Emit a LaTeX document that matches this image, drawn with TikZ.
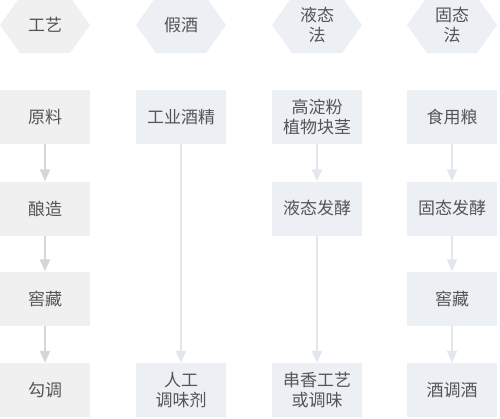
\documentclass[tikz,border=0pt]{standalone}
\usepackage{fontspec}
\newfontfamily\cjk{Noto Sans CJK SC}
\usetikzlibrary{arrows.meta}
\definecolor{grayfill}{HTML}{F0F0F0}
\definecolor{bluefill}{HTML}{ECEFF4}
\definecolor{grayarrow}{HTML}{D6D6D6}
\definecolor{bluearrow}{HTML}{E2E6EE}
\definecolor{txt}{HTML}{555555}
\tikzset{
  cell/.style={minimum width=90pt, minimum height=54pt, inner sep=0pt, align=center,
    font=\cjk\fontsize{17}{20}\selectfont, text=txt},
  gcell/.style={cell, fill=grayfill},
  bcell/.style={cell, fill=bluefill},
  hexlabel/.style={inner sep=0pt, align=center, font=\cjk\fontsize{17}{20}\selectfont, text=txt},
  flow/.style={line width=2pt, -{Triangle[width=10pt,length=12pt]}},
  gflow/.style={flow, draw=grayarrow},
  bflow/.style={flow, draw=bluearrow},
}
\newcommand{\hexshape}[3]{%
  \fill[#3] (#1-45,#2) -- (#1-25,#2-28) -- (#1+25,#2-28) -- (#1+45,#2) -- (#1+25,#2+28) -- (#1-25,#2+28) -- cycle;}
\begin{document}
\begin{tikzpicture}[x=1pt,y=-1pt]
\useasboundingbox (0,0) rectangle (500,418);
\fill[white] (0,0) rectangle (500,418);
% header hexagons
\hexshape{45}{25}{grayfill}
\hexshape{181}{25}{bluefill}
\hexshape{317}{25}{bluefill}
\hexshape{452}{25}{bluefill}
\node[hexlabel] (h1) at (45,25) {工艺};
\node[hexlabel] (h2) at (181,25) {假酒};
\node[hexlabel] (h3) at (317,25) {液态\\法};
\node[hexlabel] (h4) at (452,25) {固态\\法};
% column 1
\node[gcell] (a1) at (45,117) {原料};
\node[gcell] (a2) at (45,208.5) {酿造};
\node[gcell] (a3) at (45,298.5) {窖藏};
\node[gcell] (a4) at (45,390) {勾调};
% column 2
\node[bcell] (b1) at (181,117) {工业酒精};
\node[bcell] (b4) at (181,390) {人工\\调味剂};
% column 3
\node[bcell] (c1) at (317,117) {高淀粉\\植物块茎};
\node[bcell] (c2) at (317,208.5) {液态发酵};
\node[bcell] (c4) at (317,390) {串香工艺\\或调味};
% column 4
\node[bcell] (d1) at (452,117) {食用粮};
\node[bcell] (d2) at (452,208.5) {固态发酵};
\node[bcell] (d3) at (452,298.5) {窖藏};
\node[bcell] (d4) at (452,390) {酒调酒};
% arrows
\draw[gflow] (a1) -- (a2);
\draw[gflow] (a2) -- (a3);
\draw[gflow] (a3) -- (a4);
\draw[bflow] (b1) -- (b4);
\draw[bflow] (c1) -- (c2);
\draw[bflow] (c2) -- (c4);
\draw[bflow] (d1) -- (d2);
\draw[bflow] (d2) -- (d3);
\draw[bflow] (d3) -- (d4);
\end{tikzpicture}
\end{document}
